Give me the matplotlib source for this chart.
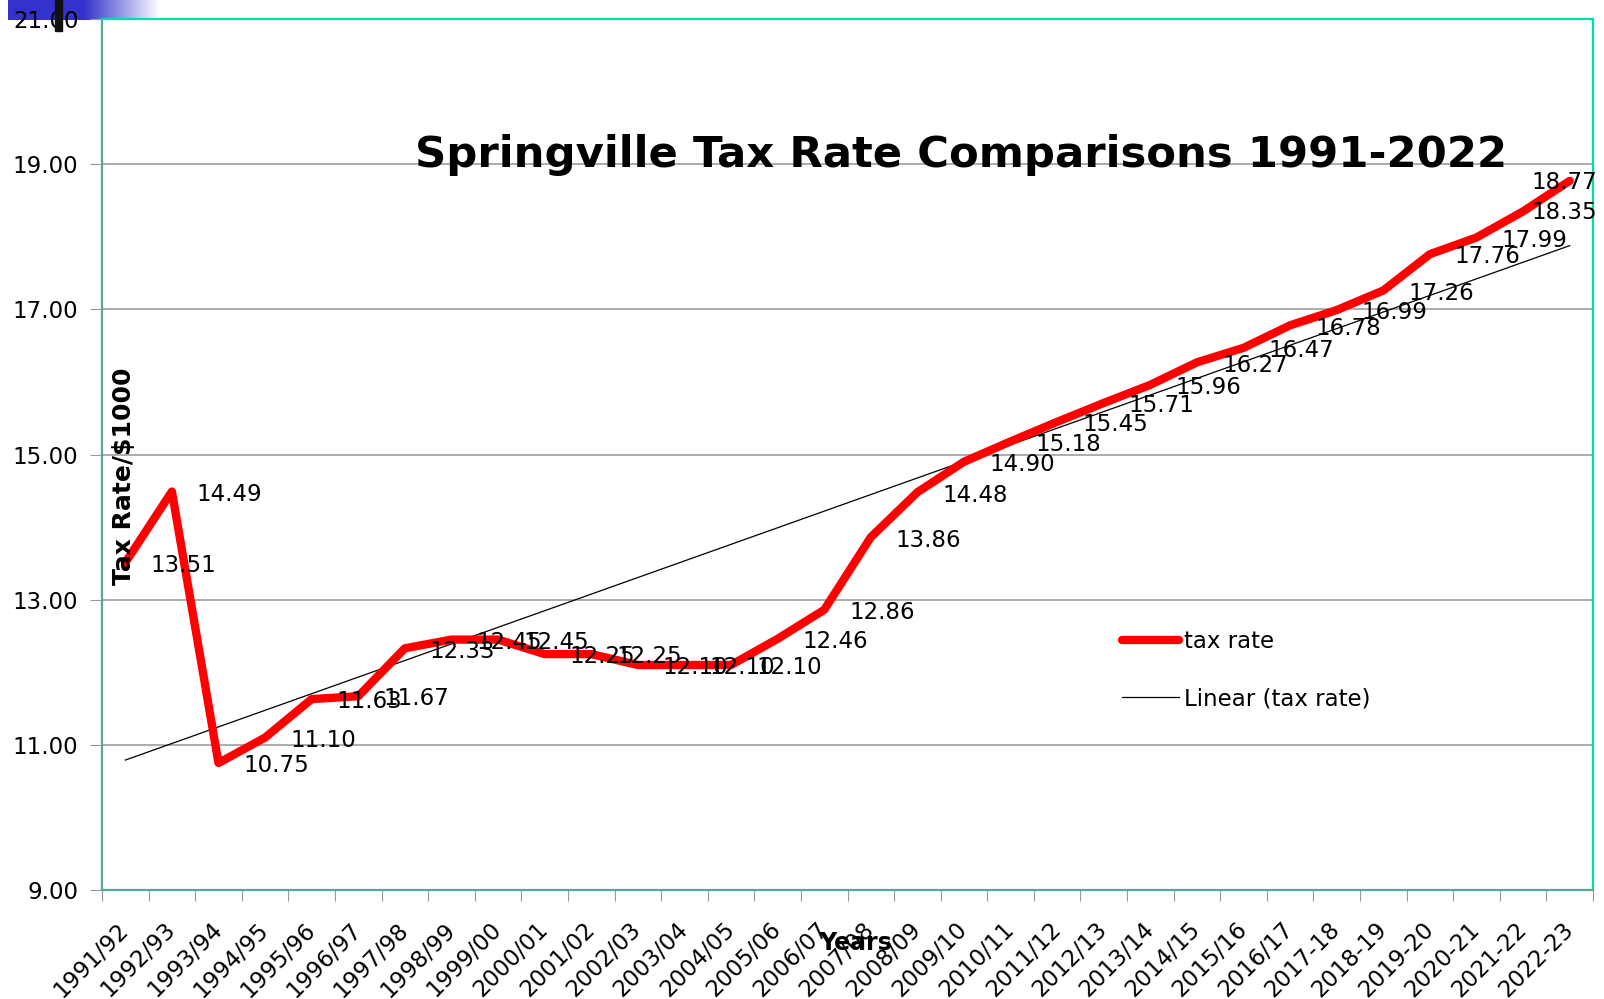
import numpy as np
import matplotlib.pyplot as plt
from matplotlib.patches import Rectangle
from matplotlib.lines import Line2D

# data
years = ["1991/92", "1992/93", "1993/94", "1994/95", "1995/96", "1996/97",
         "1997/98", "1998/99", "1999/00", "2000/01", "2001/02", "2002/03",
         "2003/04", "2004/05", "2005/06", "2006/07", "2007/08", "2008/09",
         "2009/10", "2010/11", "2011/12", "2012/13", "2013/14", "2014/15",
         "2015/16", "2016/17", "2017-18", "2018-19", "2019-20", "2020-21",
         "2021-22", "2022-23"]
tax_rate = [13.51, 14.49, 10.75, 11.10, 11.63, 11.67, 12.33, 12.45, 12.45,
            12.25, 12.25, 12.10, 12.10, 12.10, 12.46, 12.86, 13.86, 14.48,
            14.90, 15.18, 15.45, 15.71, 15.96, 16.27, 16.47, 16.78, 16.99,
            17.26, 17.76, 17.99, 18.35, 18.77]
y_ticks = [9, 11, 13, 15, 17, 19, 21]

W, H = 1604, 999
fig = plt.figure(figsize=(W / 100, H / 100), dpi=100)
ax = fig.add_axes([102 / W, 1 - 890 / H, (1593 - 102) / W, (890 - 19) / H])

x = np.arange(len(years))
y = np.array(tax_rate)

# Excel style linear trendline
slope, icept = np.polyfit(x, y, 1)
ax.plot(x, slope * x + icept, color="black", lw=0.9, zorder=3)
ax.plot(x, y, color="#ff0000", lw=6, solid_capstyle="round",
        solid_joinstyle="round", zorder=4)

for i, v in enumerate(tax_rate):
    if i >= len(tax_rate) - 2:
        # labels pushed back inside the chart edge
        ax.annotate(f"{v:.2f}", xy=(1.003, v), xycoords=("axes fraction", "data"),
                    xytext=(0, -1), textcoords="offset points",
                    ha="right", va="center", fontsize=16.5, zorder=5)
    else:
        ax.annotate(f"{v:.2f}", xy=(i, v), xytext=(18, -2),
                    textcoords="offset points", ha="left", va="center",
                    fontsize=16.5, zorder=5)

ax.set_xlim(-0.5, len(years) - 0.5)
ax.set_ylim(9, 21)
ax.set_yticks(y_ticks)
ax.set_yticklabels([f"{t:.2f}" for t in y_ticks], fontsize=16.5)
ax.tick_params(axis="y", length=9, color="#999999", pad=8)

ax.set_xticks(np.arange(-0.5, len(years)), labels=[])
ax.set_xticks(x, minor=True)
ax.set_xticklabels(years, minor=True, rotation=45, ha="right",
                   rotation_mode="anchor", va="center", fontsize=16.5)
ax.tick_params(axis="x", which="major", length=8, color="#999999")
ax.tick_params(axis="x", which="minor", length=0, pad=26)

ax.grid(axis="y", color="#a6a6a6", lw=1.3)
ax.set_axisbelow(True)
for side in ("left", "bottom"):
    ax.spines[side].set_color("#55a894")
    ax.spines[side].set_linewidth(1.6)
for side in ("top", "right"):
    ax.spines[side].set_color("#00e0a4")
    ax.spines[side].set_linewidth(1.6)

fig.text(961 / W, 1 - 167 / H, "Springville Tax Rate Comparisons 1991-2022",
         ha="center", va="baseline", fontsize=31.2, fontweight="bold")
fig.text(124 / W, 1 - 476 / H, "Tax Rate/$1000", rotation=90, ha="center",
         va="center", fontsize=18, fontweight="bold")
fig.text(856 / W, 1 - 943 / H, "Years", ha="center", va="center",
         fontsize=17, fontweight="bold")

handles = [Line2D([], [], color="#ff0000", lw=6, solid_capstyle="round"),
           Line2D([], [], color="black", lw=0.9)]
fig.legend(handles, ["tax rate", "Linear (tax rate)"], loc="upper left",
           bbox_to_anchor=(1122 / W, 1 - 630 / H), frameon=False, fontsize=16.5,
           handlelength=2.5, handletextpad=0.2, labelspacing=1.5,
           borderpad=0, borderaxespad=0)

# blue gradient strip in the top-left corner
grad = np.linspace(0, 1, 256)
alpha = np.clip((grad - 0.5) / 0.5, 0, 1)
img = np.ones((1, 256, 3))
base = np.array([0.2, 0.2, 0.8])
img[0] = base[None, :] * (1 - alpha[:, None]) + alpha[:, None]
gax = fig.add_axes([8 / W, 1 - 20 / H, 152 / W, 20 / H], zorder=-1)
gax.imshow(img, aspect="auto")
gax.axis("off")
fig.add_artist(Rectangle((55 / W, 1 - 31 / H), 7 / W, 31 / H,
                         transform=fig.transFigure, color="#111111", zorder=10))

fig.savefig("out.png", dpi=100)
